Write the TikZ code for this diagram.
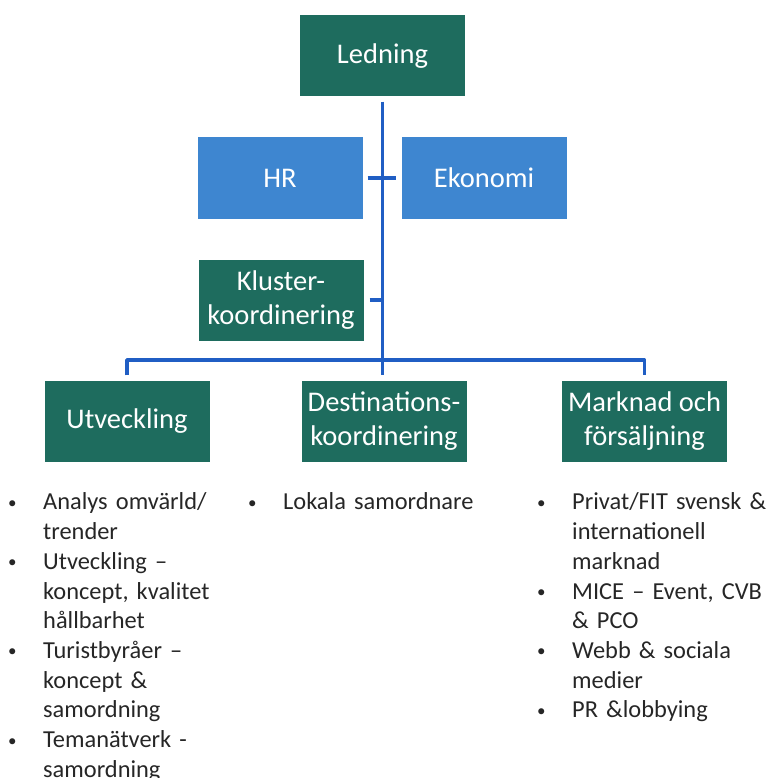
\documentclass[tikz,border=0pt]{standalone}
\usepackage{fontspec}
\setmainfont{Carlito}
\usepackage{tikz}
\usepackage{xcolor}
\definecolor{boxgreen}{RGB}{30,108,94}
\definecolor{boxblue}{RGB}{62,134,208}
\definecolor{linkblue}{RGB}{32,94,196}
\definecolor{listgray}{RGB}{38,38,38}
\newcommand{\punkt}{\par\hangindent=36pt\hangafter=1\noindent
  \makebox[36pt][l]{\hspace{1pt}\raisebox{1.5pt}{\fontsize{17}{17}\selectfont\textbullet}}}

\begin{document}
\begin{tikzpicture}[x=1pt,y=-1pt,
    unit/.style={shape=rectangle, fill=boxgreen, text=white, align=center, inner sep=0pt,
      minimum width=165pt, minimum height=81pt, font=\fontsize{28.5}{34.5}\selectfont},
    staff/.style={unit, fill=boxblue},
    link/.style={draw=linkblue, line width=3.6pt, line join=round},
    tasks/.style={anchor=north west, inner sep=0pt, text width=240pt, text=listgray,
      font=\fontsize{24.4}{29.7}\selectfont}]
    \useasboundingbox (0,0) rectangle (765,778);

    \node[unit] (ledning) at (382.5,56) {Ledning};
    \node[staff] (hr) at (280,178) {HR};
    \node[staff] (ekonomi) at (484,178) {Ekonomi};
    \node[unit] (kluster) at (281,300) {Kluster-\\koordinering};

    \node[unit] (utv) at (127,421) {Utveckling};
    \node[unit] (dest) at (384,421) {Destinations-\\koordinering};
    \node[unit] (mark) at (644.5,421) {Marknad och\\försäljning};

    \coordinate (bus) at (383,360);

    \draw[link, shorten <=5pt, shorten >=5pt] (ledning.south) -- (ledning.south |- dest.north);
    \draw[link, shorten <=5pt, shorten >=5pt] (hr.east) -- (ekonomi.west);
    \draw[link, shorten <=6pt] (kluster.east) -- (kluster.east -| ledning.south);
    \draw[link, shorten <=5pt, shorten >=5pt] (utv.north) -- (utv.north |- bus) -- (mark.north |- bus) -- (mark.north);

    % uppgifter under varje enhet
    \node[tasks] (utvlista) at (7,480) {\raggedright
      \punkt Analys omvärld/\newline trender
      \punkt Utveckling –\newline koncept, kvalitet\newline hållbarhet
      \punkt Turistbyråer –\newline koncept \&\newline samordning
      \punkt Temanätverk -\newline samordning\par};
    \node[tasks] (destlista) at (247,480) {\raggedright
      \punkt Lokala samordnare\par};
    \node[tasks] (marklista) at (536,480) {\raggedright
      \punkt Privat/FIT svensk \&\newline internationell\newline marknad
      \punkt MICE – Event, CVB\newline \& PCO
      \punkt Webb \& sociala\newline medier
      \punkt PR \&lobbying\par};
\end{tikzpicture}
\end{document}
